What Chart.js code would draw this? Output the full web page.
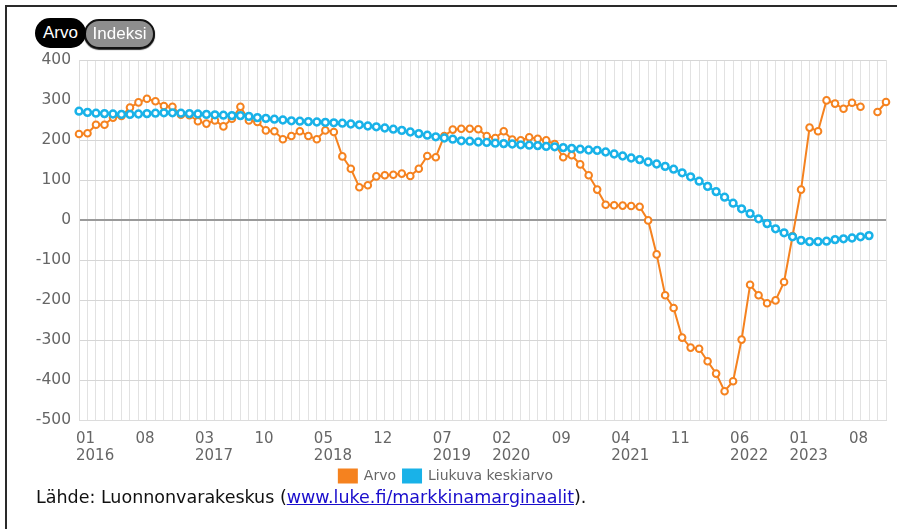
<!DOCTYPE html>
<html>
<head>
<meta charset="utf-8">
<script src="https://cdn.jsdelivr.net/npm/chart.js@4.4.0/dist/chart.umd.min.js"></script>
<style>
  html, body { margin: 0; padding: 0; background: #fff; }
  body { width: 897px; height: 529px; position: relative; overflow: hidden; }
  #frame { position: absolute; left: 5px; top: 5px; width: 1000px; height: 1000px;
           border-left: 2px solid #2a2a2a; border-top: 2px solid #2a2a2a; }
  #wrap { position: absolute; left: 0; top: 0; width: 897px; height: 493px; }
  .btn { position: absolute; height: 30px; line-height: 30px; border-radius: 15px;
         font-family: "Liberation Sans", Arial, sans-serif; font-size: 17px; color: #fff;
         text-align: center; box-sizing: border-box; }
  #b1 { left: 35px; top: 18px; width: 51px; background: #000; z-index: 2; }
  #b2 { left: 84px; top: 19px; width: 71px; background: #8e8e8e; border: 2px solid #111;
        line-height: 26px; box-shadow: 0 1px 1px #333; }
  #src { position: absolute; left: 36px; top: 487px; font-family: "DejaVu Sans", Verdana, sans-serif;
         font-size: 17.5px; color: #111; white-space: nowrap; }
  #src a { color: #1a0dcc; text-decoration: underline; }
</style>
</head>
<body>
<div id="frame"></div>
<div id="wrap"><canvas id="chart"></canvas></div>
<div class="btn" id="b1">Arvo</div>
<div class="btn" id="b2">Indeksi</div>
<div id="src">Lähde: Luonnonvarakeskus (<a href="#">www.luke.fi/markkinamarginaalit</a>).</div>
<script>
'use strict';

// kuukaudet 01/2016 - 12/2023
var months = [];
for (var yr = 2016; yr <= 2023; yr++) {
	for (var m = 1; m <= 12; m++) {
		months.push((m < 10 ? '0' + m : '' + m) + '/' + yr);
	}
}

// joka 7. kuukausi nimetty akselilla
var tickMonths = ['01', '08', '03', '10', '05', '12', '07', '02', '09', '04', '11', '06', '01', '08'];
var tickYears = ['2016', '', '2017', '', '2018', '', '2019', '2020', '', '2021', '', '2022', '2023', ''];

var arvo = [
	215, 217, 238, 238, 256, 260, 281, 294, 303, 297, 285, 283,
	263, 262, 247, 241, 249, 234, 253, 283, 249, 245, 224, 222,
	202, 210, 222, 210, 202, 224, 220, 159, 128, 82, 87, 109,
	112, 113, 116, 110, 128, 160, 157, 210, 226, 228, 228, 227,
	210, 205, 222, 201, 199, 207, 203, 199, 190, 157, 162, 139,
	112, 76, 38, 37, 36, 35, 33, -1, -86, -188, -220, -294,
	-319, -322, -353, -384, -428, -403, -299, -162, -188, -208, -201, -155,
	-40, 76, 231, 222, 299, 291, 278, 293, 283, null, 270, 295
];

var liukuva = [
	272, 269, 267, 266, 265, 264, 264, 265, 266, 267, 268, 268,
	267, 266, 265, 264, 263, 262, 261, 261, 259, 256, 254, 252,
	250, 248, 247, 246, 245, 244, 243, 242, 240, 238, 235, 233,
	230, 227, 224, 220, 216, 212, 208, 205, 202, 198, 197, 195,
	194, 192, 191, 190, 188, 187, 186, 184, 183, 181, 179, 177,
	175, 174, 170, 165, 160, 155, 151, 145, 140, 134, 127, 118,
	108, 97, 84, 71, 57, 42, 28, 16, 3, -9, -22, -32,
	-42, -51, -54, -54, -53, -49, -47, -45, -42, -39
];

var orange = '#f5821f';
var blue = '#19b2e8';

var ctx = document.getElementById('chart').getContext('2d');
var chart = new Chart(ctx, {
	type: 'line',
	data: {
		labels: months,
		datasets: [{
			label: 'Arvo',
			data: arvo,
			borderColor: orange,
			backgroundColor: orange,
			borderWidth: 2,
			pointRadius: 3.3,
			pointBorderWidth: 2,
			pointBackgroundColor: '#fff',
			pointBorderColor: orange,
			spanGaps: false,
			tension: 0,
			order: 1
		}, {
			label: 'Liukuva keskiarvo',
			data: liukuva,
			borderColor: blue,
			backgroundColor: blue,
			borderWidth: 2,
			pointRadius: 3.4,
			pointBorderWidth: 2.5,
			pointBackgroundColor: '#fff',
			pointBorderColor: blue,
			tension: 0,
			order: 0
		}]
	},
	options: {
		responsive: true,
		maintainAspectRatio: false,
		animation: false,
		layout: {
			padding: { top: 60, right: 5, left: 0, bottom: 0 }
		},
		scales: {
			x: {
				grid: { color: '#e2e2e2', lineWidth: 1, drawTicks: false },
				border: { color: '#dcdcdc' },
				afterFit: function(scale) { scale.height = 42; },
				ticks: {
					autoSkip: false,
					maxRotation: 0,
					minRotation: 0,
					align: 'start',
					labelOffset: -3,
					padding: 11,
					color: '#666',
					font: { family: 'DejaVu Sans', size: 15, lineHeight: 1.1 },
					callback: function(value, index) {
						if (index % 7 !== 0) return '';
						return [tickMonths[index / 7], tickYears[index / 7]];
					}
				}
			},
			y: {
				min: -500,
				max: 400,
				afterFit: function(scale) { scale.width = 79; },
				grid: {
					drawTicks: false,
					color: function(c) { return c.tick && c.tick.value === 0 ? '#9a9a9a' : '#d6d6d6'; },
					lineWidth: function(c) { return c.tick && c.tick.value === 0 ? 2 : 1; }
				},
				border: { color: '#dcdcdc' },
				ticks: {
					stepSize: 100,
					padding: 8,
					color: '#666',
					font: { family: 'DejaVu Sans', size: 15.5 }
				}
			}
		},
		plugins: {
			tooltip: { enabled: false },
			legend: {
				position: 'bottom',
				labels: {
					boxWidth: 18,
					boxHeight: 13,
					padding: 7,
					color: '#666',
					font: { family: 'DejaVu Sans', size: 14 },
					sort: function(a, b) { return a.datasetIndex - b.datasetIndex; }
				}
			}
		}
	}
});
</script>
</body>
</html>
